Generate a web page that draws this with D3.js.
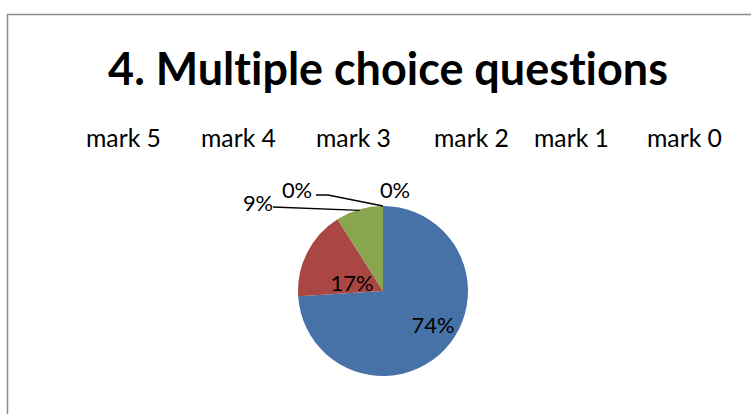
<!DOCTYPE html>
<html><head><meta charset="utf-8">
<script src="https://cdn.jsdelivr.net/npm/d3@7"></script>
<style>body{margin:0;background:#fff}svg{display:block}text{font-family:Lato,"Open Sans",sans-serif;fill:#000;font-variant-ligatures:none;font-feature-settings:"liga" 0}</style>
</head><body>
<script>
const title = "4. Multiple choice questions";
const categories = ["mark 5","mark 4","mark 3","mark 2","mark 1","mark 0"];
const values = [74,17,9,0,0,0];
const colors = ["#4672A8","#AA4643","#89A54E","#71588F","#4198AF","#DB843D"];

const W=751,H=414;
const svg=d3.select("body").append("svg").attr("width",W).attr("height",H);
svg.append("rect").attr("x",7.5).attr("y",14.5).attr("width",W).attr("height",H).attr("fill","#fff").attr("stroke","#8c8c8c").attr("stroke-width",1.5);

const t=svg.append("text").attr("x",388).attr("y",85).attr("text-anchor","middle").attr("font-weight","bold").attr("font-size",40).text(title);
const tl=t.node().getComputedTextLength(); t.attr("font-size",40*560/tl);

// measure font size to match reference text widths
const probe=svg.append("text").attr("font-size",20).text("mark 5");
const legendFS=20*75/probe.node().getComputedTextLength();
probe.text("74%");
const labelFS=20*43/probe.node().getComputedTextLength();
probe.remove();

const legendPos=[86,201,316,434,534,647];
svg.selectAll(".lg").data(categories).enter().append("text").attr("class","lg")
  .attr("x",(d,i)=>legendPos[i]).attr("y",147).attr("font-size",legendFS).text(d=>d);

const cx=383,cy=291,r=85;
const pie=d3.pie().sort(null).value(d=>d)(values);
const arc=d3.arc().innerRadius(0).outerRadius(r);
const g=svg.append("g").attr("transform",`translate(${cx},${cy})`);
g.selectAll("path").data(pie).enter().append("path").attr("d",arc).attr("fill",(d,i)=>colors[i]);

const fmt=d=>Math.round(d)+"%";
const lab=(x,y,txt)=>g.append("text").attr("x",x).attr("y",y).attr("dy","0.35em").attr("text-anchor","middle").attr("font-size",labelFS).text(txt);
lab(50,34,fmt(values[0]));
lab(-31,-8,fmt(values[1]));
const mid=d=>(d.startAngle+d.endAngle)/2;
const pt=(a,rr)=>[Math.sin(a)*rr,-Math.cos(a)*rr];
const lines=d3.line();
{const e=pt(mid(pie[2]),r-1);
 g.append("path").attr("d",lines([[-110,-84],e])).attr("fill","none").attr("stroke","#000").attr("stroke-width",1.3);
 lab(-125,-88,fmt(values[2]));}
{const e=pt(mid(pie[3]),r);
 g.append("path").attr("d",lines([[-67,-96],[-55,-96],e])).attr("fill","none").attr("stroke","#000").attr("stroke-width",1.3);
 lab(-86,-101,fmt(values[3]));}
lab(12,-101,fmt(values[4]));
</script>
</body></html>
